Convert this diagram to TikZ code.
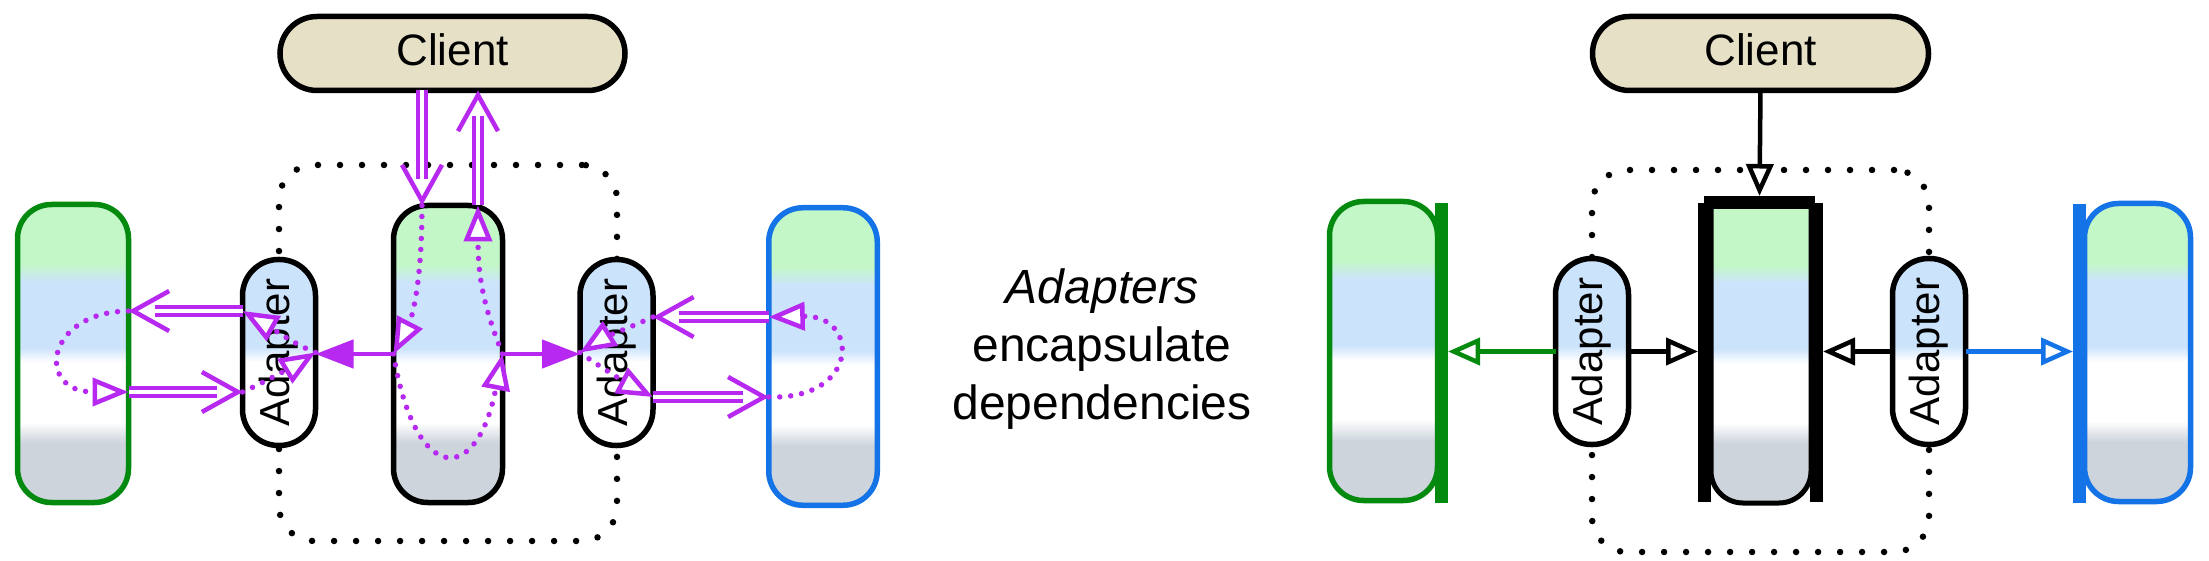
\documentclass[tikz,border=0pt]{standalone}
\usepackage{fontspec}
\setmainfont{Liberation Sans}
\usetikzlibrary{arrows.meta,calc}
\definecolor{purp}{RGB}{183,41,240}
\definecolor{gstroke}{RGB}{5,138,16}
\definecolor{bstroke}{RGB}{20,115,230}
\definecolor{lgreen}{RGB}{195,247,200}
\definecolor{lblue}{RGB}{204,227,252}
\definecolor{lgrey}{RGB}{205,212,220}
\definecolor{beige}{RGB}{230,224,198}
\pgfdeclareverticalshading{layers}{100bp}{color(0bp)=(lgrey); color(35bp)=(lgrey); color(38.5bp)=(white); color(48.5bp)=(white); color(51bp)=(lblue); color(62bp)=(lblue); color(65bp)=(lgreen); color(100bp)=(lgreen)}
\pgfdeclareverticalshading{adapt}{100bp}{color(0bp)=(white); color(47.5bp)=(white); color(51.5bp)=(lblue); color(100bp)=(lblue)}
\tikzset{
  client/.style={draw, line width=5.5pt, fill=beige, rounded corners=37pt, minimum height=74pt, inner sep=0pt, outer sep=0pt, font=\fontsize{44}{50}\selectfont, text height=31pt, text depth=6pt},
  layer/.style={line width=5.5pt, shade, shading=layers, rounded corners=34pt, inner sep=0pt, outer sep=0pt},
  adapter/.style={draw, line width=5.5pt, shade, shading=adapt, rounded corners=36pt, minimum width=73pt, minimum height=186pt, inner sep=0pt, outer sep=0pt, label={[rotate=90, font=\fontsize{42}{48}\selectfont]center:Adapter}},
  container/.style={draw, line width=6.5pt, dash pattern=on 0pt off 22pt, line cap=round, rounded corners=35pt, inner sep=0pt, outer sep=0pt},
  bar/.style={fill, inner sep=0pt, outer sep=0pt, minimum width=13pt},
  pdot/.style={purp, line width=5.5pt, dash pattern=on 0pt off 11pt, line cap=round, -{Triangle[fill=white, length=36pt, width=28pt, line width=4.5pt, line cap=butt]}},
  pfill/.style={purp, line width=4.5pt, -{Triangle[length=38pt, width=28pt]}},
  dbl/.style={purp, line width=4pt, double=white, double distance=4pt},
  dblhead/.style={purp, line width=4.5pt, -{Straight Barb[length=36pt, width=40pt]}},
  oarr/.style={line width=4.5pt, -{Triangle[fill=white, length=32pt, width=27pt]}},
  caption/.style={font=\fontsize{48}{57}\selectfont, anchor=base}
}
\newcommand\dblarrow[2]{\draw[dbl, shorten >=26pt] (#1) -- (#2); \draw[dblhead] ($(#2)!6pt!(#1)$) -- (#2);}
\begin{document}
\begin{tikzpicture}[x=1pt,y=-1pt]
\useasboundingbox (0,0) rectangle (2209,561);
% ---------- left diagram ----------
\node[container, minimum width=338pt, minimum height=376pt] (contL) at (448,353) {};
\node[client, minimum width=345pt] (cL) at (452.5,53.5) {Client};
\node[layer, draw=gstroke, minimum width=111pt, minimum height=298pt] (gL) at (73,353.5) {};
\node[layer, draw=black, minimum width=109pt, minimum height=297pt] (mL) at (448,354) {};
\node[layer, draw=bstroke, minimum width=108.5pt, minimum height=297.5pt] (bL) at (823,356.5) {};
\node[adapter] (lA) at (279,352.5) {};
\node[adapter] (rA) at (616.5,352.5) {};
\coordinate (A1) at ($(lA.west)+(0,-41.5)$);
\coordinate (A2) at ($(gL.east)+(0,-42.5)$);
\coordinate (B1) at ($(gL.east)+(0,38.5)$);
\coordinate (B2) at ($(lA.west)+(0,39.5)$);
\coordinate (C1) at ($(bL.west)+(0,-39.5)$);
\coordinate (C2) at ($(rA.east)+(0,-35.5)$);
\coordinate (D1) at ($(rA.east)+(0,44.5)$);
\coordinate (D2) at ($(bL.west)+(0,40.5)$);
\coordinate (E1) at ($(cL.south)+(-30.5,0)$);
\coordinate (E2) at ($(mL.north)+(-26,0)$);
\coordinate (F1) at ($(mL.north)+(30,0)$);
\coordinate (F2) at ($(cL.south)+(25.5,0)$);
\dblarrow{A1}{A2}
\dblarrow{B1}{B2}
\dblarrow{C1}{C2}
\dblarrow{D1}{D2}
\dblarrow{E1}{E2}
\dblarrow{F1}{F2}
\draw[pfill] (mL.west) -- (mL.west -| lA.east);
\draw[pfill] (mL.east) -- (mL.east -| rA.west);
\draw[pdot] (A2) .. controls (45,312) and (35,392) .. (B1);
\draw[pdot] (lA.east) .. controls (295,345) and (262,322) .. (A1);
\draw[pdot] (B2) .. controls (265,382) and (295,365) .. (lA.east);
\draw[pdot] (E2) .. controls (422,290) and (410,322) .. (mL.west);
\draw[pdot] (mL.west) .. controls (415,486) and (477,486) .. (mL.east);
\draw[pdot] (mL.east) .. controls (485,310) and (478,280) .. (F1);
\draw[pdot] (rA.west) .. controls (600,367) and (630,385) .. (D1);
\draw[pdot] (C2) .. controls (635,325) and (600,340) .. (rA.west);
\draw[pdot] (D2) .. controls (860,400) and (860,315) .. (C1);
% ---------- caption ----------
\node[caption, font=\fontsize{48}{57}\selectfont\itshape] (t1) at (1102,304) {Adapters};
\node[caption] (t2) at (1102,362) {encapsulate};
\node[caption] (t3) at (1102,419) {dependencies};
% ---------- right diagram ----------
\node[container, minimum width=337pt, minimum height=382pt] (contR) at (1760.5,361) {};
\node[client, minimum width=336pt] (cR) at (1760.5,53.5) {Client};
\node[layer, draw=gstroke, minimum width=108pt, minimum height=299pt] (gR) at (1383.5,351) {};
\node[bar, fill=gstroke, minimum height=300pt] (gbar) at (1441.5,353) {};
\shade[shading=layers, draw=black, line width=5pt] (1711,206) [rounded corners=32pt] -- (1711,503) -- (1811,503) [rounded corners=0pt] -- (1811,206) -- cycle;
\node[bar, minimum height=299pt] (lbar) at (1704.5,352.5) {};
\node[bar, minimum height=299pt] (rbar) at (1816.5,352.5) {};
\node[bar, minimum width=111pt, minimum height=13pt] (tbar) at (1759.5,202.5) {};
\node[layer, draw=bstroke, minimum width=106pt, minimum height=298pt] (bR) at (2137.5,352.5) {};
\node[bar, fill=bstroke, minimum height=299pt] (bbar) at (2079.5,353.5) {};
\node[adapter] (lA2) at (1592,351.5) {};
\node[adapter] (rA2) at (1929,351.5) {};
\draw[oarr] (cR.south) -- (tbar.north);
\draw[oarr] (lA2.east) -- (lA2.east -| lbar.west);
\draw[oarr] (rA2.west) -- (rA2.west -| rbar.east);
\draw[oarr, gstroke] (lA2.west) -- (lA2.west -| gbar.east);
\draw[oarr, bstroke] (rA2.east) -- (rA2.east -| bbar.west);
\end{tikzpicture}
\end{document}
